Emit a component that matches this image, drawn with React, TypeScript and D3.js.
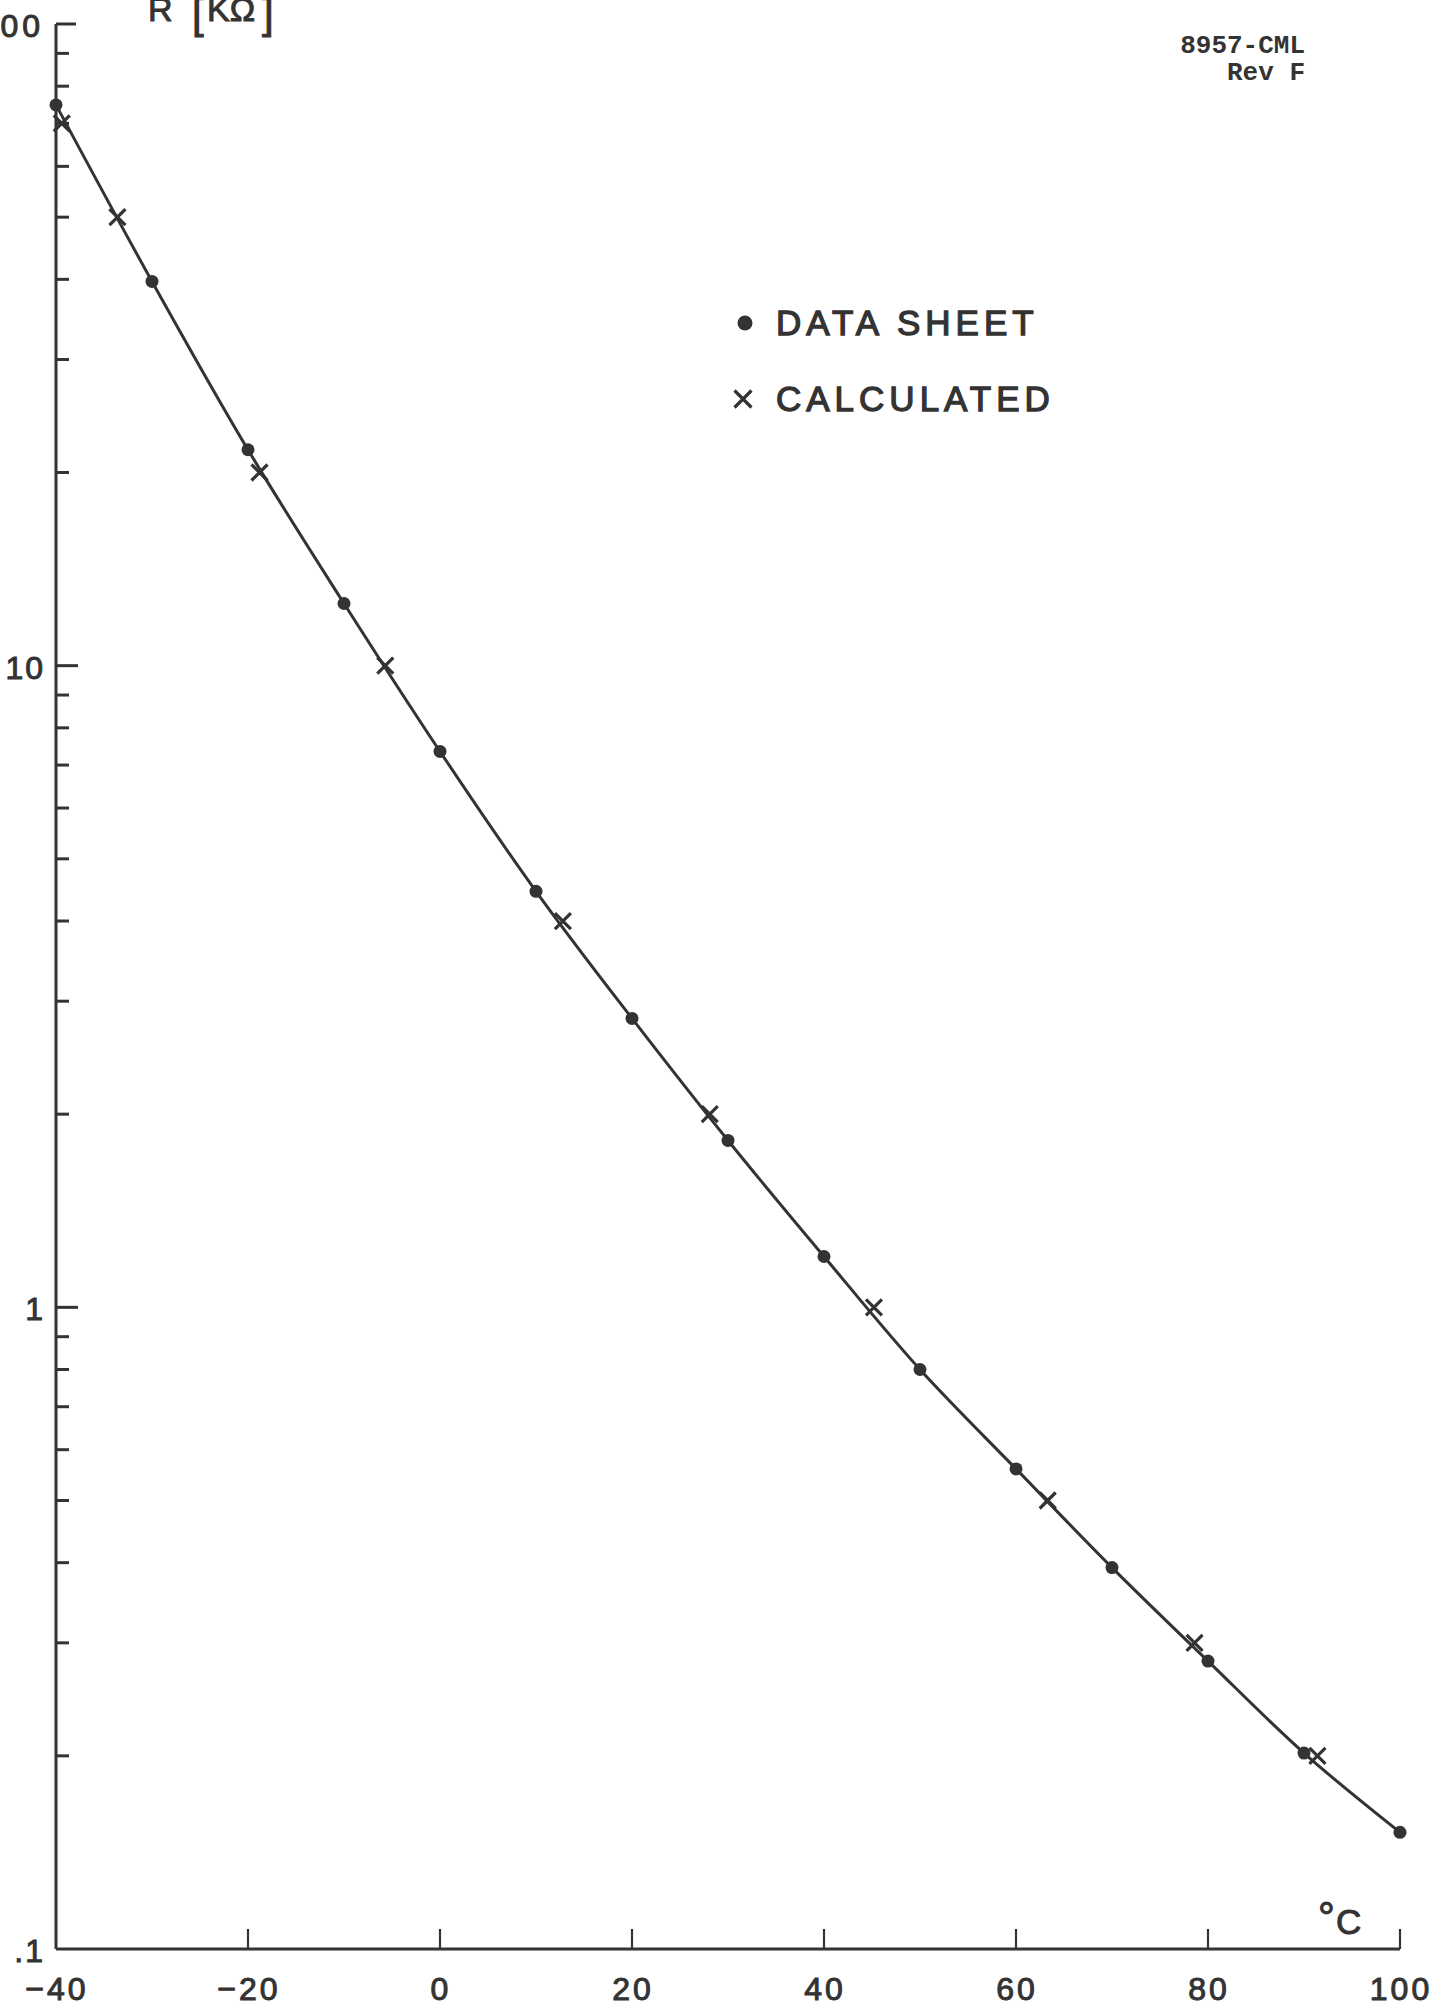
import React from 'react';
import * as d3 from 'd3';

// ---- data ----
const sheetTemps = [-40, -30, -20, -10, 0, 10, 20, 30, 40, 50, 60, 70, 80, 90, 100];
const sheetR = [74.8, 39.7, 21.7, 12.5, 7.35, 4.45, 2.82, 1.82, 1.2, 0.8, 0.56, 0.393, 0.281, 0.202, 0.152];
const calcTemps = [-39.4, -33.6, -18.8, -5.7, 12.8, 28.1, 45.2, 63.3, 78.6, 91.4];
const calcR = [70, 50, 20, 10, 4, 2, 1, 0.5, 0.3, 0.2];
const xTicks = [-40, -20, 0, 20, 40, 60, 80, 100];
const xTickLabels = ['−40', '−20', '0', '20', '40', '60', '80', '100'];
const yMajor = [0.1, 1, 10, 100];
const yMajorLabels = ['.1', '1', '10', '100'];
const minorMultipliers = [2, 3, 4, 5, 6, 7, 8, 9];
const legendLabels = ['DATA SHEET', 'CALCULATED'];
const docId = ['8957-CML', 'Rev F'];

const INK = '#333';
const SANS = '"Liberation Sans", Arial, Helvetica, sans-serif';
const MONO = '"Liberation Mono", "DejaVu Sans Mono", monospace';

export default function App() {
  const W = 1437, H = 2007;
  const x = d3.scaleLinear().domain([-40, 100]).range([56, 1400]);
  const y = d3.scaleLog().domain([0.1, 100]).range([1949, 24]);

  const sheet = sheetTemps.map((t, i) => ({ t, r: sheetR[i] }));
  const calc = calcTemps.map((t, i) => ({ t, r: calcR[i] }));

  const line = d3
    .line<{ t: number; r: number }>()
    .x((d) => x(d.t))
    .y((d) => y(d.r))
    .curve(d3.curveCatmullRom.alpha(0.5));

  const minorTicks: number[] = [];
  [0.1, 1, 10].forEach((dec) => minorMultipliers.forEach((m) => minorTicks.push(dec * m)));

  const x0 = x(-40);
  const yBottom = y(0.1);
  const xRight = x(100);

  const crossPath = (cx: number, cy: number, s: number) =>
    `M${cx - s},${cy - s}L${cx + s},${cy + s}M${cx - s},${cy + s}L${cx + s},${cy - s}`;

  const textStyle = { fill: INK, stroke: INK, strokeWidth: 1 } as const;

  return (
    <svg
      width={W}
      height={H}
      viewBox={`0 0 ${W} ${H}`}
      style={{ position: 'absolute', left: 0, top: 0, display: 'block', background: '#fff' }}
    >
      <rect x={0} y={0} width={W} height={H} fill="#fff" />

      {/* axes */}
      <line x1={x0} y1={y(100)} x2={x0} y2={yBottom} stroke={INK} strokeWidth={3} />
      <line x1={x0} y1={yBottom} x2={xRight} y2={yBottom} stroke={INK} strokeWidth={3} />

      {/* y major ticks */}
      {yMajor.map((v, i) =>
        v === 0.1 ? null : (
          <line key={'ym' + i} x1={x0} x2={x0 + (v === 100 ? 20 : 22)} y1={y(v)} y2={y(v)} stroke={INK} strokeWidth={3} />
        )
      )}
      {/* y minor ticks */}
      {minorTicks.map((v, i) => (
        <line key={'yn' + i} x1={x0} x2={x0 + 13} y1={y(v)} y2={y(v)} stroke={INK} strokeWidth={3} />
      ))}
      {/* y labels */}
      {yMajor.map((v, i) => (
        <text
          key={'yl' + i}
          x={v === 100 ? 44 : 45}
          y={y(v) + 13}
          textAnchor="end"
          fontFamily={SANS}
          fontSize={32}
          letterSpacing={v === 100 ? 4 : 2}
          {...textStyle}
        >
          {yMajorLabels[i]}
        </text>
      ))}

      {/* x ticks */}
      {xTicks.map((v, i) =>
        v === -40 ? null : (
          <line key={'xt' + i} x1={x(v)} x2={x(v)} y1={yBottom} y2={yBottom - 20} stroke={INK} strokeWidth={2.2} />
        )
      )}
      {xTicks.map((v, i) => (
        <text
          key={'xl' + i}
          x={x(v) + 1}
          y={2000}
          textAnchor="middle"
          fontFamily={SANS}
          fontSize={32}
          letterSpacing={3}
          {...textStyle}
        >
          {xTickLabels[i]}
        </text>
      ))}

      {/* axis titles */}
      <text fontFamily={SANS} {...textStyle}>
        <tspan x={148} y={21} fontSize={34}>R</tspan>
        <tspan x={192} y={28} fontSize={42}>[</tspan>
        <tspan x={207} y={21} fontSize={34}>KΩ</tspan>
        <tspan x={262} y={28} fontSize={42}>]</tspan>
      </text>
      <text fontFamily={SANS} {...textStyle}>
        <tspan x={1318} y={1932} fontSize={42}>°</tspan>
        <tspan x={1336} y={1934} fontSize={35}>C</tspan>
      </text>

      {/* document id */}
      <text x={1305} y={53} textAnchor="end" fontFamily={MONO} fontWeight="bold" fontSize={26} fill={INK}>
        {docId[0]}
      </text>
      <text x={1305} y={80} textAnchor="end" fontFamily={MONO} fontWeight="bold" fontSize={26} fill={INK}>
        {docId[1]}
      </text>

      {/* curve */}
      <path d={line(sheet) || ''} fill="none" stroke={INK} strokeWidth={3} />

      {/* data sheet dots */}
      {sheet.map((d, i) => (
        <circle key={'d' + i} cx={x(d.t)} cy={y(d.r)} r={6.5} fill={INK} />
      ))}
      {/* calculated crosses */}
      {calc.map((d, i) => (
        <path key={'c' + i} d={crossPath(x(d.t), y(d.r), 8)} stroke={INK} strokeWidth={3.2} fill="none" />
      ))}

      {/* legend */}
      <circle cx={745} cy={323} r={7.5} fill={INK} />
      <text x={776} y={335} fontFamily={SANS} fontSize={35} letterSpacing={5} {...textStyle} strokeWidth={1.3}>
        {legendLabels[0]}
      </text>
      <path d={crossPath(743, 399, 8.5)} stroke={INK} strokeWidth={3.2} fill="none" />
      <text x={776} y={411} fontFamily={SANS} fontSize={35} letterSpacing={5} {...textStyle} strokeWidth={1.3}>
        {legendLabels[1]}
      </text>
    </svg>
  );
}
